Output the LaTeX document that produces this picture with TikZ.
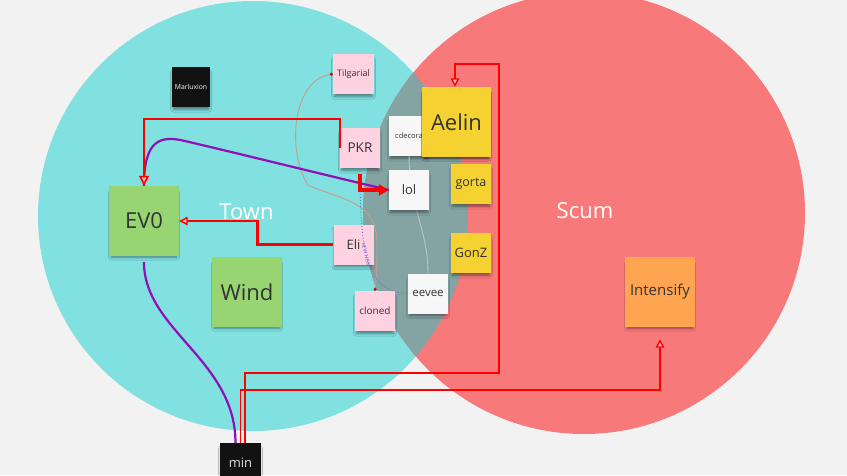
\documentclass[tikz,border=0pt]{standalone}
\usepackage{fontspec}
\setmainfont{Open Sans}
\usetikzlibrary{arrows.meta,shadows.blur,calc}
\definecolor{bgc}{HTML}{F2F2F2}
\definecolor{tealc}{HTML}{81E0E0}
\definecolor{salmonc}{HTML}{F87979}
\definecolor{overc}{HTML}{84A4A4}
\definecolor{pinkc}{HTML}{FFD2E2}
\definecolor{yellowc}{HTML}{F5D132}
\definecolor{greenc}{HTML}{97D472}
\definecolor{orangec}{HTML}{FFA551}
\definecolor{whitec}{HTML}{F7F7F7}
\definecolor{darkc}{HTML}{121212}
\definecolor{txtc}{HTML}{333333}
\definecolor{redc}{HTML}{FF0000}
\definecolor{purplec}{HTML}{9010B8}
\definecolor{tanc}{HTML}{C89C8C}
\definecolor{dotc}{HTML}{7468D4}
\definecolor{grayl}{HTML}{B4C8C8}
\newcommand{\fs}[1]{\fontsize{#1}{#1}\selectfont}
\begin{document}
\begin{tikzpicture}[x=1pt,y=-1pt,
  sticky/.style={rectangle, inner sep=0pt, minimum width=40pt, minimum height=40pt, text=txtc,
    blur shadow={shadow xshift=0pt, shadow yshift=-4pt, shadow scale=0.93, shadow blur radius=3pt, shadow opacity=45}},
  bigst/.style={sticky, minimum width=70pt, minimum height=70pt, font=\fs{22}},
  pinkst/.style={sticky, fill=pinkc},
  yellowst/.style={sticky, fill=yellowc},
  whitest/.style={sticky, fill=whitec},
  greenst/.style={bigst, fill=greenc},
  orangest/.style={bigst, fill=orangec},
  darkst/.style={sticky, fill=darkc, text=white},
  redline/.style={draw=redc, line width=2.5pt},
  thinred/.style={draw=redc, line width=1.9pt},
  purpleline/.style={draw=purplec, line width=2.2pt},
  redtip/.style={-{Triangle[length=10pt, width=10pt, fill=red!30, line width=1.6pt]}},
  smalltip/.style={-{Triangle[length=8.5pt, width=8.5pt, fill=red!25, line width=1.4pt]}},
  venn/.style={text=white, font=\fs{22}}
]
\useasboundingbox (0,0) rectangle (847,475);
\fill[bgc] (0,0) rectangle (847,475);
\fill[tealc] (253,216) circle[radius=215];
\fill[salmonc] (584,213) circle[radius=221];
\begin{scope}
\clip (253,216) circle[radius=215];
\fill[overc] (584,213) circle[radius=221];
\end{scope}

\node[venn] (town) at (246.5,212) {Town};
\node[venn] (scum) at (585,211) {Scum};

\node[whitest, font=\fs{7.5}] (cdec) at (409,136) {cdecora};
\node[whitest, font=\fs{11.5}] (eevee) at (428,293.5) {eevee};
\draw[grayl, line width=0.9pt] (cdec.south) .. controls (410,210) and (428,230) .. (eevee.north);

\node[darkst, minimum width=38pt, font=\fs{6.8}] (marl) at (191,87) {Marluxion};
\node[pinkst, minimum width=41pt, font=\fs{9}] (tilg) at (353.5,74) {Tilgarial};
\node[pinkst, font=\fs{13.5}] (pkr) at (360,148) {PKR};
\node[yellowst, bigst, minimum width=69pt] (aelin) at (456.5,122) {Aelin};
\node[whitest, font=\fs{13}] (lol) at (409,190) {lol};
\node[yellowst, font=\fs{12.5}] (gorta) at (471,184) {gorta};
\node[pinkst, font=\fs{13}] (eli) at (353.5,244.5) {Eli};
\node[yellowst, font=\fs{13}] (gonz) at (471,253) {GonZ};
\node[pinkst, font=\fs{10}] (cloned) at (375,311) {cloned};
\node[greenst] (ev0) at (144,221) {EV0};
\node[greenst] (wind) at (247,292) {Wind};
\node[orangest, font=\fs{15}] (intens) at (660,292) {Intensify};
\node[darkst, minimum width=41pt, text=white!88!black, font=\fs{13}] (min) at (240.5,463) {min};

% tan curve
\draw[tanc, line width=0.9pt, {Circle[length=3pt, color=red!85!black]}-{Circle[length=3pt, color=red!85!black]}]
  (tilg.west) .. controls (293,80) and (286,150) .. (308,185)
  .. controls (340,200) and (378,200) .. (377,245)
  .. controls (377,265) and (376,280) .. (cloned.north);

% dotted
\draw[dotc, line width=0.9pt, dotted] (pkr.south) .. controls (360,250) and (365,292) ..
  node[sloped, pos=0.45, font=\fs{5}, text=dotc] (newlbl) {NEW NEW} (eevee.west);

% purple
\draw[purpleline] (ev0.north) .. controls (144,140) and (160,135) .. (185,141)
  .. controls (253,157) and (321,174) .. (lol.west);
\draw[purpleline, shorten <=6pt] (ev0.south) .. controls (144,330) and (235.5,360) .. ([xshift=-5pt]min.north);

% red
\draw[redline, redtip] (pkr.west) -- ++(0,-29) -| (ev0.north);
\draw[redline, line width=4.2pt, shorten <=6pt, -{Triangle[length=10pt, width=11pt]}] (pkr.south) |- (lol.west);
\draw[redline, smalltip] (eli.west) -- ++(-76,0) |- (ev0.east);
\draw[thinred, smalltip] ([xshift=4.5pt]min.north) -- ++(0,-70) -- ++(254,0) -- ++(0,-309) -| ([xshift=-1.5pt]aelin.north);
\draw[thinred, smalltip, shorten >=12pt] (min.north) -- ++(0,-53) -| (intens.south);
\end{tikzpicture}
\end{document}
